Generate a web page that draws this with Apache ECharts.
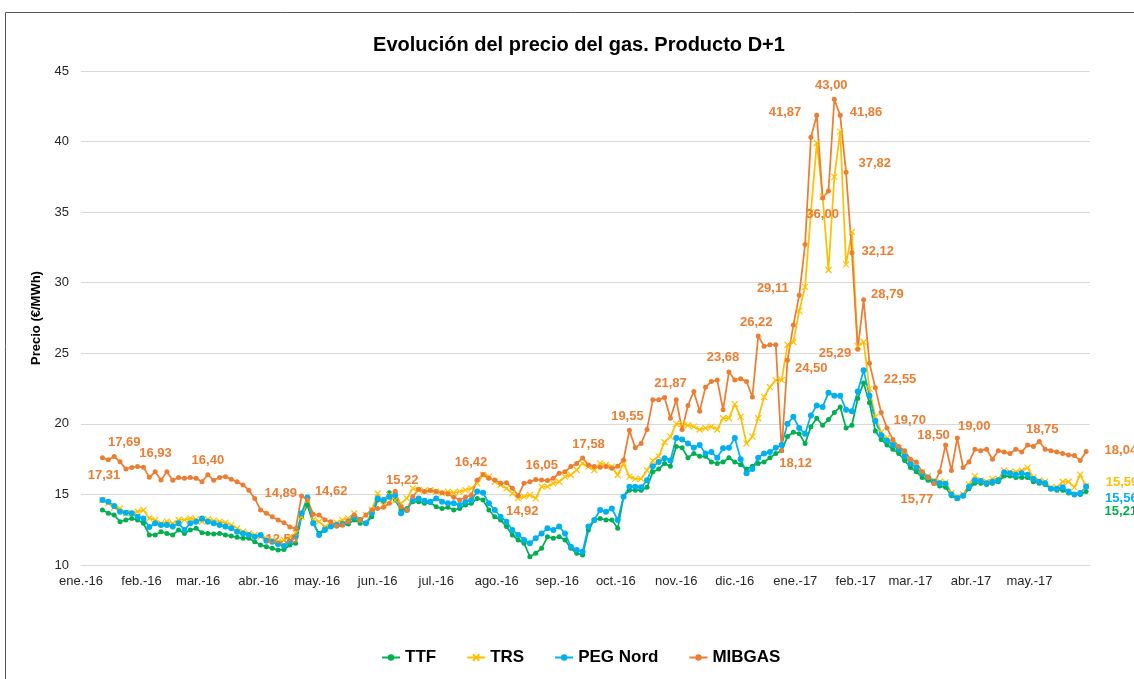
<!DOCTYPE html>
<html>
<head>
<meta charset="utf-8">
<script src="https://cdn.jsdelivr.net/npm/echarts@6/dist/echarts.min.js"></script>
<style>
  html, body { margin: 0; padding: 0; background: #fff; }
  #chart { width: 1134px; height: 679px; }
</style>
</head>
<body>
<div id="chart"></div>
<script>
// x axis: first day of each month and its label
const monthStarts = [
  [2016, 1], [2016, 2], [2016, 3], [2016, 4], [2016, 5], [2016, 6], [2016, 7], [2016, 8], [2016, 9],
  [2016, 10], [2016, 11], [2016, 12], [2017, 1], [2017, 2], [2017, 3], [2017, 4], [2017, 5]
];
const monthLabels = [
  "ene.-16", "feb.-16", "mar.-16", "abr.-16", "may.-16", "jun.-16", "jul.-16", "ago.-16", "sep.-16",
  "oct.-16", "nov.-16", "dic.-16", "ene.-17", "feb.-17", "mar.-17", "abr.-17", "may.-17"
];

// readings every 3 days from 12 Jan 2016 to 31 May 2017 (€/MWh)
const firstDay = [2016, 1, 12];
const stepDays = 3;

const ttf = [
  13.90, 13.66, 13.54, 13.07, 13.19, 13.30, 13.19, 12.95, 12.13, 12.13,
  12.36, 12.24, 12.13, 12.48, 12.24, 12.48, 12.60, 12.29, 12.24, 12.20,
  12.24, 12.13, 12.05, 11.96, 11.90, 11.90, 11.65, 11.42, 11.30, 11.18,
  11.06, 11.10, 11.42, 11.54, 13.42, 14.25, 12.95, 12.24, 12.60, 12.76,
  12.76, 12.83, 12.90, 13.19, 12.95, 12.95, 13.42, 14.60, 14.49, 15.12,
  14.60, 13.90, 14.00, 14.49, 14.49, 14.37, 14.42, 14.13, 14.00, 14.09,
  13.90, 14.00, 14.25, 14.37, 14.72, 14.60, 13.90, 13.42, 13.19, 12.72,
  12.13, 11.77, 11.54, 10.59, 10.83, 11.18, 12.00, 11.90, 12.00, 11.77,
  11.18, 10.83, 10.71, 12.48, 13.19, 13.30, 13.19, 13.19, 12.60, 14.84,
  15.30, 15.30, 15.30, 15.50, 16.60, 16.80, 17.20, 17.00, 18.40, 18.30,
  17.60, 17.90, 17.70, 17.70, 17.30, 17.20, 17.30, 17.60, 17.30, 17.10,
  16.80, 17.00, 17.20, 17.30, 17.60, 17.90, 18.10, 19.10, 19.40, 19.30,
  18.60, 19.80, 20.40, 19.90, 20.30, 20.80, 21.20, 19.70, 19.90, 21.80,
  22.90, 21.50, 19.50, 18.90, 18.50, 18.20, 17.90, 17.40, 16.90, 16.60,
  16.20, 16.00, 15.80, 15.60, 15.50, 14.90, 14.70, 14.90, 15.40, 15.80,
  15.80, 15.70, 15.80, 15.90, 16.30, 16.30, 16.20, 16.20, 16.20, 15.90,
  15.80, 15.70, 15.40, 15.30, 15.30, 15.10, 15.00, 15.00, 15.21
];

const trs = [
  14.60, 14.37, 14.09, 14.00, 13.66, 13.66, 13.78, 13.90, 13.30, 13.19,
  12.95, 13.07, 12.95, 13.19, 13.20, 13.30, 13.24, 13.07, 13.24, 13.14,
  13.07, 13.00, 12.83, 12.60, 12.36, 12.24, 12.13, 12.00, 11.90, 11.77,
  11.65, 11.77, 12.00, 12.24, 13.42, 14.60, 13.19, 13.07, 12.70, 12.83,
  13.00, 13.19, 13.30, 13.66, 13.19, 13.54, 13.90, 15.08, 14.25, 14.96,
  14.60, 14.37, 14.72, 15.43, 15.30, 15.27, 15.30, 15.20, 15.08, 15.20,
  15.12, 15.20, 15.30, 15.43, 15.79, 16.38, 16.26, 15.90, 15.67, 15.43,
  15.08, 14.72, 14.84, 14.96, 14.72, 15.55, 15.55, 15.79, 15.90, 16.26,
  16.38, 16.73, 17.20, 16.97, 16.73, 17.20, 17.09, 16.97, 16.38, 17.20,
  16.26, 16.10, 16.10, 16.70, 17.40, 17.70, 18.70, 19.10, 20.00, 20.00,
  19.90, 19.80, 19.60, 19.70, 19.80, 19.60, 20.40, 20.40, 21.40, 20.50,
  18.60, 19.10, 20.40, 21.90, 22.60, 23.10, 23.10, 25.60, 25.80, 28.00,
  29.70, 35.00, 39.90, 36.10, 30.90, 37.50, 40.70, 31.30, 33.60, 25.50,
  25.80, 22.50, 20.50, 19.40, 19.00, 18.60, 18.30, 17.80, 17.30, 17.00,
  16.60, 16.30, 16.00, 15.90, 15.85, 15.10, 14.80, 15.00, 15.70, 16.30,
  16.00, 15.90, 16.10, 16.10, 16.70, 16.60, 16.60, 16.70, 16.90, 16.20,
  16.00, 15.90, 15.50, 15.50, 15.90, 15.90, 15.50, 16.40, 15.59
];

const pegNord = [
  14.60, 14.49, 14.18, 13.78, 13.70, 13.66, 13.42, 13.30, 12.70, 12.95,
  12.83, 12.83, 12.72, 12.95, 12.48, 12.95, 13.07, 13.30, 13.07, 12.95,
  12.83, 12.72, 12.60, 12.36, 12.24, 12.13, 12.00, 12.13, 11.72, 11.65,
  11.49, 11.35, 11.65, 12.00, 13.66, 14.79, 12.95, 12.13, 12.48, 12.72,
  12.83, 12.90, 13.07, 13.42, 13.19, 12.95, 13.66, 14.72, 14.60, 14.84,
  14.96, 13.66, 13.90, 14.60, 14.72, 14.56, 14.49, 14.72, 14.49, 14.37,
  14.37, 14.25, 14.49, 14.60, 15.20, 15.12, 14.37, 13.90, 13.42, 13.07,
  12.48, 12.13, 11.77, 11.54, 11.90, 12.24, 12.60, 12.48, 12.72, 12.24,
  11.30, 11.06, 10.94, 12.72, 13.19, 13.90, 13.78, 14.00, 13.19, 14.84,
  15.55, 15.55, 15.50, 16.00, 17.00, 17.30, 17.56, 17.40, 19.00, 18.90,
  18.60, 18.30, 18.50, 17.90, 18.00, 17.60, 18.27, 18.30, 19.00, 17.50,
  16.50, 16.80, 17.60, 17.90, 18.00, 18.30, 18.50, 20.00, 20.50, 19.70,
  19.30, 20.60, 21.30, 21.20, 22.20, 22.00, 22.00, 21.00, 20.90, 22.30,
  23.80, 22.00, 20.20, 19.20, 18.80, 18.50, 18.20, 17.70, 17.20, 16.90,
  16.50, 16.20, 15.90, 15.80, 15.75, 15.00, 14.75, 14.90, 15.55, 16.00,
  15.95, 15.80, 15.90, 16.00, 16.55, 16.50, 16.40, 16.50, 16.40, 16.10,
  15.90, 15.80, 15.40, 15.40, 15.50, 15.20, 15.00, 15.10, 15.56
];

const mibgas = [
  17.60, 17.45, 17.69, 17.31, 16.80, 16.90, 16.97, 16.93, 16.21, 16.60,
  16.02, 16.60, 16.00, 16.20, 16.14, 16.20, 16.14, 15.90, 16.40, 16.00,
  16.20, 16.26, 16.07, 15.90, 15.67, 15.30, 14.72, 13.90, 13.66, 13.42,
  13.19, 13.00, 12.70, 12.56, 14.89, 14.62, 13.60, 13.54, 13.20, 13.07,
  12.76, 12.83, 13.07, 13.54, 13.19, 13.54, 13.90, 14.00, 14.09, 14.37,
  15.22, 14.13, 13.90, 14.84, 15.36, 15.20, 15.27, 15.20, 15.12, 15.03,
  14.80, 14.60, 14.80, 14.96, 16.02, 16.42, 16.14, 16.02, 15.79, 15.83,
  15.43, 14.92, 15.79, 15.90, 16.05, 16.02, 15.98, 16.14, 16.50, 16.60,
  16.97, 17.20, 17.58, 17.09, 16.97, 16.92, 16.97, 16.85, 17.00, 17.44,
  19.55, 18.30, 18.60, 19.60, 21.70, 21.70, 21.87, 20.40, 21.70, 19.60,
  21.30, 22.30, 20.90, 22.60, 23.00, 23.10, 21.00, 23.68, 23.10, 23.20,
  23.00, 21.90, 26.22, 25.50, 25.60, 25.60, 18.12, 24.50, 27.00, 29.11,
  32.70, 40.30, 41.87, 36.00, 36.50, 43.00, 41.86, 37.82, 32.12, 25.29,
  28.79, 24.30, 22.55, 20.80, 19.70, 18.90, 18.40, 18.10, 17.50, 17.30,
  16.60, 16.20, 15.77, 16.60, 18.50, 16.70, 19.00, 16.90, 17.30, 18.20,
  18.10, 18.20, 17.50, 18.10, 18.00, 17.90, 18.20, 18.00, 18.50, 18.40,
  18.75, 18.20, 18.10, 18.00, 17.90, 17.80, 17.75, 17.40, 18.04
];

// which MIBGAS readings carry a value label: [index, position, dx, dy]
const mibgasLabelAt = [
  [2, "top", 10, 0], [3, "bottom", -16, 0], [7, "top", 12, 0], [18, "top", 0, 0],
  [33, "bottom", -14, -3], [34, "left", 3, -3], [35, "right", 0, -8], [50, "top", 7, 3],
  [65, "top", -12, 2], [71, "bottom", 4, 2], [74, "top", 6, 0], [82, "top", 6, 0],
  [90, "top", -2, 0], [96, "top", 6, 0], [107, "top", -6, 0], [112, "top", -2, 0],
  [116, "bottom", 14, -1], [117, "right", 0, 8], [119, "left", -3, -7], [122, "left", -8, -3],
  [123, "bottom", 0, 2], [125, "top", -3, 0], [126, "right", 2, -3], [127, "right", 5, -9],
  [128, "right", 2, -1], [129, "left", 1, 4], [130, "right", 0, -5], [132, "right", 1, -8],
  [134, "right", -1, -8], [142, "bottom", -17, 2], [144, "top", -12, 4], [146, "top", 17, 2],
  [160, "top", 3, 2], [168, "right", 11, -1]
];

const FONT = "'Liberation Sans', Arial, sans-serif";
const COLORS = { ttf: "#00B050", trs: "#FFC000", peg: "#00B0F0", mibgas: "#ED7D31" };

function dayTime(y, m, d) {
  return new Date(y, m - 1, d).getTime();
}

const dates = mibgas.map(function (v, i) {
  return dayTime(firstDay[0], firstDay[1], firstDay[2] + i * stepDays);
});
const monthTimes = monthStarts.map(function (m) {
  return dayTime(m[0], m[1], 1);
});

function fmt(v) {
  return v.toFixed(2).replace(".", ",");
}

function buildData(values, labelAt, color) {
  const labelMap = {};
  labelAt.forEach(function (l) {
    labelMap[l[0]] = l;
  });
  return values.map(function (v, i) {
    const item = { value: [dates[i], v] };
    const l = labelMap[i];
    if (l) {
      item.label = {
        show: true,
        position: l[1],
        offset: [l[2], l[3]],
        distance: 5,
        color: color,
        fontFamily: FONT,
        fontWeight: "bold",
        fontSize: 13,
        formatter: function () {
          return fmt(v);
        },
      };
    }
    return item;
  });
}

const last = mibgas.length - 1;

function lineSeries(name, values, color, symbol, size, labelAt) {
  return {
    name: name,
    type: "line",
    data: buildData(values, labelAt, color),
    symbol: symbol,
    symbolSize: size,
    showAllSymbol: true,
    lineStyle: { color: color, width: 1.75 },
    itemStyle: { color: color, borderColor: color, borderWidth: symbol === "circle" ? 0 : 1.2 },
    label: { show: false },
    emphasis: { disabled: true },
    z: 2,
  };
}

const chartDom = document.getElementById("chart");
const myChart = echarts.init(chartDom, null, { renderer: "canvas" });

const option = {
  animation: false,
  backgroundColor: "#ffffff",
  textStyle: { fontFamily: FONT },
  title: {
    text: "Evolución del precio del gas. Producto D+1",
    left: 574,
    textAlign: "center",
    top: 30,
    textStyle: { fontFamily: FONT, fontSize: 20, fontWeight: "bold", color: "#000000" },
  },
  graphic: [
    {
      type: "rect",
      shape: { x: 5.5, y: 12.5, width: 1200, height: 800 },
      style: { fill: "none", stroke: "#595959", lineWidth: 1 },
      silent: true,
    },
  ],
  legend: {
    bottom: 8,
    left: 376,
    itemGap: 30,
    itemWidth: 18,
    itemHeight: 8,
    textStyle: { fontFamily: FONT, fontSize: 17, fontWeight: "bold", color: "#000000" },
    data: ["TTF", "TRS", "PEG Nord", "MIBGAS"],
  },
  grid: { left: 81, right: 44, top: 71, bottom: 114, containLabel: false },
  xAxis: {
    type: "value",
    min: dayTime(2016, 1, 1),
    max: dayTime(2017, 6, 1),
    axisLine: { show: true, lineStyle: { color: "#D9D9D9", width: 1 } },
    axisTick: { show: false },
    splitLine: { show: false },
    axisLabel: {
      customValues: monthTimes,
      hideOverlap: false,
      showMinLabel: true,
      margin: 10,
      color: "#262626",
      fontFamily: FONT,
      fontSize: 13,
      formatter: function (value) {
        const i = monthTimes.indexOf(value);
        return i >= 0 ? monthLabels[i] : "";
      },
    },
  },
  yAxis: {
    type: "value",
    min: 10,
    max: 45,
    interval: 5,
    name: "Precio (€/MWh)",
    nameLocation: "middle",
    nameGap: 38,
    nameTextStyle: { fontFamily: FONT, fontSize: 13, fontWeight: "bold", color: "#000000" },
    axisLine: { show: false },
    axisTick: { show: false },
    axisLabel: { margin: 12, color: "#262626", fontFamily: FONT, fontSize: 13 },
    splitLine: { lineStyle: { color: "#D9D9D9", width: 1 } },
  },
  series: [
    lineSeries("TTF", ttf, COLORS.ttf, "circle", 5, [[last, "right", 11, 20]]),
    lineSeries("TRS", trs, COLORS.trs, "path://M0,0L10,10M10,0L0,10", 6, [[last, "right", 11, -4]]),
    lineSeries("PEG Nord", pegNord, COLORS.peg, "circle", 6, [[last, "right", 11, 12]]),
    lineSeries("MIBGAS", mibgas, COLORS.mibgas, "circle", 5, mibgasLabelAt),
  ],
};

myChart.setOption(option);
</script>
</body>
</html>
